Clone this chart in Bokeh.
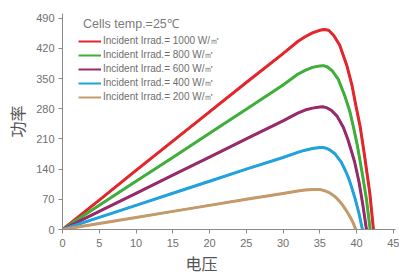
from bokeh.plotting import figure
from bokeh.models import Range1d, FixedTicker, Legend, LegendItem, Label, Title
from bokeh.embed import file_html
from bokeh.resources import INLINE

# ---- data ----
V_1000 = [0, 5, 10, 15, 20, 25, 30, 32, 33, 34, 35, 35.6, 36.2, 36.9, 37.7, 38.7, 39.4, 39.9, 40.5, 41.1, 41.8, 42.3]
P_1000 = [0, 68, 137, 205, 273, 341, 408, 436, 447, 456, 462, 464, 462, 450, 428, 379, 333, 288, 238, 170, 85, 0]

V_800 = [0, 5, 10, 15, 20, 25, 30, 32, 33, 34, 35, 35.5, 36.05, 36.7, 37.5, 38.4, 39.1, 39.6, 40.1, 40.75, 41.35, 41.85]
P_800 = [0, 56, 112, 167, 223, 279, 335, 360, 369, 376, 379.5, 380, 377, 368, 349, 310, 273, 236, 196, 133, 70, 0]

V_600 = [0, 5, 10, 15, 20, 25, 30, 32, 33, 34, 35, 35.5, 36.0, 36.6, 37.35, 38.2, 38.8, 39.25, 39.75, 40.35, 40.85, 41.35]
P_600 = [0, 42, 84, 126, 168, 210, 252, 270, 277, 281.5, 284, 284.5, 282, 276, 263, 237, 210, 185, 156, 109, 58, 0]

V_400 = [0, 5, 10, 15, 20, 25, 30, 32, 33, 34, 35, 35.4, 35.9, 36.4, 37.1, 37.9, 38.45, 38.9, 39.3, 39.85, 40.35, 40.8]
P_400 = [0, 28, 56, 84, 112, 140, 167, 179, 184, 188, 190, 190, 188.5, 184, 175, 157, 138, 120, 100, 69, 36, 0]

V_200 = [0, 5, 10, 15, 20, 25, 30, 32, 33, 34, 34.6, 35.1, 35.65, 36.35, 37.1, 37.6, 38.05, 38.45, 39.0, 39.5, 39.9]
P_200 = [0, 14, 28, 42, 56, 70, 83.5, 89.5, 91.5, 93, 93, 92.5, 90, 85, 76, 67, 58, 48, 33, 17, 0]

series_labels = ["Incident Irrad.= 1000 W/㎡", "Incident Irrad.= 800 W/㎡",
                 "Incident Irrad.= 600 W/㎡", "Incident Irrad.= 400 W/㎡",
                 "Incident Irrad.= 200 W/㎡"]
series_colors = ["#e3262b", "#3fae3b", "#962a6b", "#22a2dc", "#c49a6a"]
x_ticks = [0, 5, 10, 15, 20, 25, 30, 35, 40, 45]
y_ticks = [0, 70, 140, 210, 280, 350, 420, 490]
title_text = "Cells temp.=25℃"
x_label = "电压"
y_label = "功率"

p = figure(width=399, height=279, output_backend="svg", toolbar_location=None,
           x_range=Range1d(0, 45.3), y_range=Range1d(0, 501),
           min_border_left=62, min_border_right=4, min_border_top=13, min_border_bottom=50)
p.outline_line_color = None
p.xgrid.visible = False
p.ygrid.visible = False
p.background_fill_color = "white"

axis_color = "#8a8a8a"
for ax in (p.xaxis[0], p.yaxis[0]):
    ax.axis_line_color = axis_color
    ax.major_tick_line_color = axis_color
    ax.minor_tick_line_color = None
    ax.major_tick_in = 0
    ax.major_tick_out = 4
    ax.major_label_text_font = "Liberation Sans"
    ax.major_label_text_font_size = "11px"
    ax.major_label_text_color = "#707070"

p.xaxis.ticker = FixedTicker(ticks=x_ticks)
p.yaxis.ticker = FixedTicker(ticks=y_ticks)
p.yaxis.major_label_standoff = 4
p.xaxis.major_label_standoff = 5

p.yaxis.axis_label = y_label
p.yaxis.axis_label_text_font = "Noto Sans CJK SC"
p.yaxis.axis_label_text_font_size = "16px"
p.yaxis.axis_label_text_font_style = "normal"
p.yaxis.axis_label_text_color = "#555555"
p.yaxis.axis_label_standoff = 4

# x-axis title, below the axis, left of centre as in the reference
p.add_layout(Title(text=x_label, align="left", offset=123, standoff=9,
                   text_font_size="16px", text_font="Liberation Sans, Noto Sans CJK SC",
                   text_font_style="normal", text_color="#555555"), "below")

data = [(V_1000, P_1000), (V_800, P_800), (V_600, P_600), (V_400, P_400), (V_200, P_200)]
items = []
for (vx, py), lab, col in zip(data, series_labels, series_colors):
    swatch = p.line(vx, py, line_color=col, line_width=2)
    p.line(vx, py, line_color=col, line_width=3, line_join="round", line_cap="round")
    items.append(LegendItem(label=lab, renderers=[swatch]))

legend = Legend(items=items, location=(16, 125), padding=0, margin=0, spacing=0,
                label_height=14, glyph_height=14, glyph_width=23, label_standoff=2,
                label_text_font="Liberation Sans", label_text_font_size="10px",
                label_text_color="#6e6e6e", border_line_color=None,
                background_fill_alpha=0)
p.add_layout(legend, "center")

p.add_layout(Label(x=2.8, y=477, text=title_text, text_font="Liberation Sans",
                   text_font_size="12.5px", text_color="#7a7a7a", text_baseline="middle"))

open("out.html", "w").write(file_html(p, INLINE))
